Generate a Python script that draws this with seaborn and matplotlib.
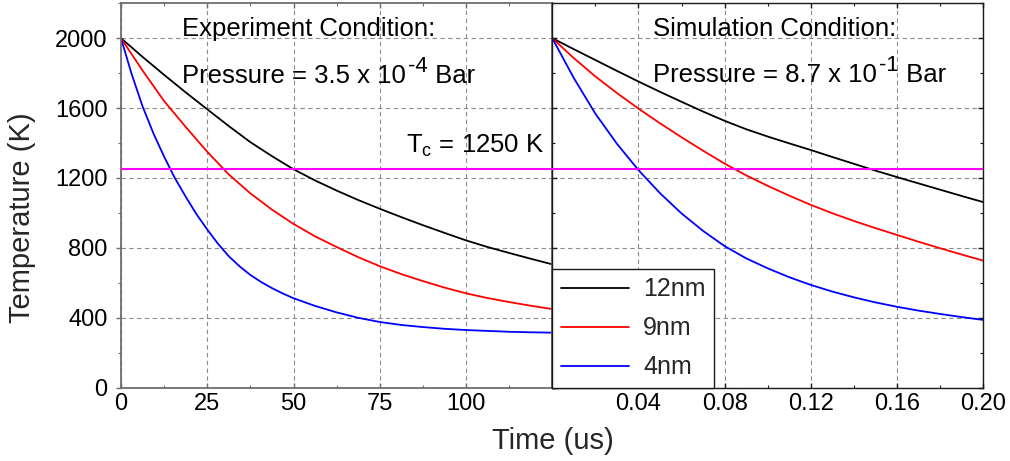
import matplotlib
matplotlib.use("Agg")
import matplotlib.pyplot as plt
import seaborn as sns
import pandas as pd
from matplotlib.ticker import FixedLocator, MultipleLocator, FormatStrFormatter
from matplotlib.lines import Line2D

# ---------------- data ----------------
sizes = ["12nm", "9nm", "4nm"]
colors = {"12nm": "#000000", "9nm": "#ff0000", "4nm": "#0000ff"}
Tc = 1250

# Experiment condition (time in us)
exp_t_12 = [0, 6.25, 12.5, 18.75, 25, 31.25, 37.5, 43.75, 50, 56.25, 62.5, 68.75, 75,
            81.25, 87.5, 93.75, 100, 106.25, 112.5, 118.75, 125]
exp_T_12 = [2000, 1893, 1790, 1690, 1593, 1497, 1405, 1325, 1250, 1186, 1128, 1074, 1024,
            976, 930, 886, 843, 805, 771, 738, 706]
exp_t_9 = [0, 6.25, 12.5, 18.75, 25, 31.25, 37.5, 43.75, 50, 56.25, 62.5, 68.75, 75,
           81.25, 87.5, 93.75, 100, 106.25, 112.5, 118.75, 125]
exp_T_9 = [2000, 1815, 1640, 1492, 1350, 1220, 1112, 1019, 937, 866, 805, 747, 695,
           650, 610, 573, 540, 513, 490, 469, 450]
exp_t_4 = [0, 3, 6.25, 9.4, 12.5, 15.6, 18.75, 21.9, 25, 28.1, 31.25, 34.4, 37.5, 40.6,
           43.75, 46.9, 50, 56.25, 62.5, 68.75, 75, 81.25, 87.5, 93.75, 100, 106.25,
           112.5, 118.75, 125]
exp_T_4 = [2000, 1800, 1610, 1455, 1322, 1200, 1093, 992, 905, 824, 752, 694, 645, 605,
           570, 539, 512, 468, 431, 400, 376, 359, 347, 337, 330, 325,
           320, 317, 315]

# Simulation condition (time in us)
sim_t = [0, 0.01, 0.02, 0.03, 0.04, 0.05, 0.06, 0.07, 0.08, 0.09, 0.10,
         0.11, 0.12, 0.13, 0.14, 0.15, 0.16, 0.17, 0.18, 0.19, 0.20]
sim_T_12 = [2000, 1937, 1875, 1813, 1752, 1693, 1636, 1580, 1527, 1479, 1437,
            1398, 1360, 1320, 1281, 1242, 1205, 1169, 1133, 1097, 1062]
sim_T_9 = [2000, 1886, 1781, 1686, 1597, 1513, 1433, 1356, 1282, 1215, 1155,
           1099, 1046, 998, 954, 913, 874, 835, 798, 762, 727]
sim_T_4 = [2000, 1772, 1568, 1396, 1245, 1113, 997, 897, 810, 740, 683,
           632, 588, 550, 517, 488, 463, 441, 422, 404, 388]

x_ticks_exp = [0, 25, 50, 75, 100]
x_ticks_sim = [0.04, 0.08, 0.12, 0.16, 0.20]
y_ticks = [0, 400, 800, 1200, 1600, 2000]


def long_df(pairs):
    frames = []
    for name, (t, T) in zip(sizes, pairs):
        frames.append(pd.DataFrame({"time": t, "temp": T, "size": name}))
    return pd.concat(frames, ignore_index=True)


df_exp = long_df([(exp_t_12, exp_T_12), (exp_t_9, exp_T_9), (exp_t_4, exp_T_4)])
df_sim = long_df([(sim_t, sim_T_12), (sim_t, sim_T_9), (sim_t, sim_T_4)])

# ---------------- style ----------------
sns.set_theme(style="white")
plt.rcParams["font.family"] = ["Liberation Sans", "DejaVu Sans"]
plt.rcParams["mathtext.fontset"] = "custom"
plt.rcParams["mathtext.rm"] = "Liberation Sans"
plt.rcParams["mathtext.it"] = "Liberation Sans:italic"
plt.rcParams["mathtext.default"] = "regular"

fig = plt.figure(figsize=(10.1, 4.61), dpi=100)
ax1 = fig.add_axes([0.1198, 0.159, 0.4270, 0.834])
ax2 = fig.add_axes([0.5468, 0.159, 0.4267, 0.834], sharey=ax1)

lw = 1.3
sns.lineplot(data=df_exp, x="time", y="temp", hue="size", hue_order=sizes,
             palette=colors, ax=ax1, legend=False, linewidth=lw, errorbar=None)
sns.lineplot(data=df_sim, x="time", y="temp", hue="size", hue_order=sizes,
             palette=colors, ax=ax2, legend=False, linewidth=lw, errorbar=None)

grid_kw = dict(color="#8c8c8c", linestyle=(0, (4, 3)), linewidth=0.8)
for ax in (ax1, ax2):
    ax.axhline(Tc, color="#ff00ff", linewidth=1.5, zorder=3)
    ax.grid(True, which="major", **grid_kw)
    ax.set_axisbelow(True)
    ax.set_xlabel("")
    ax.set_ylabel("")
    ax.set_facecolor("white")

ax1.set_xlim(0, 125)
ax1.set_ylim(0, 2200)
ax1.xaxis.set_major_locator(FixedLocator(x_ticks_exp))
ax1.xaxis.set_minor_locator(MultipleLocator(12.5))
ax1.yaxis.set_major_locator(FixedLocator(y_ticks))
ax1.yaxis.set_minor_locator(MultipleLocator(200))

ax2.set_xlim(0, 0.20)
ax2.xaxis.set_major_locator(FixedLocator(x_ticks_sim))
ax2.xaxis.set_major_formatter(FormatStrFormatter("%.2f"))
ax2.xaxis.set_minor_locator(MultipleLocator(0.02))

gray = "#6e6e6e"
dark = "#1a1a1a"
for sp in ax1.spines.values():
    sp.set_color(gray)
    sp.set_linewidth(1.3)
for sp in ax2.spines.values():
    sp.set_color(dark)
    sp.set_linewidth(1.0)

tick_fs = 17
ax1.tick_params(axis="x", which="both", direction="in", top=True, bottom=True,
                color=gray, labelsize=tick_fs, pad=4.0, labelcolor="black")
ax1.tick_params(axis="y", which="both", direction="out", left=True, right=True,
                color=gray, labelsize=tick_fs, pad=6.3, labelcolor="black")
ax1.tick_params(which="major", length=3.5, width=1)
ax1.tick_params(which="minor", length=2.2, width=0.8)

ax2.tick_params(axis="both", which="both", direction="in", top=True, bottom=True,
                left=True, right=True, color=dark, labelsize=tick_fs, pad=4.0,
                labelleft=False, labelcolor="black")
ax2.tick_params(which="major", length=3.5, width=1)
ax2.tick_params(which="minor", length=2.2, width=0.8)

# ---------------- annotations ----------------
ann_fs = 18.5
txt = dict(fontsize=ann_fs, va="baseline", color="black")


def text_with_power(ax, x, y, base, power, tail):
    """base text, a raised exponent, then the tail, all on one baseline."""
    t1 = ax.text(x, y, base, ha="left", **txt)
    t2 = ax.annotate(power, xy=(1, 0), xycoords=t1, xytext=(1.5, 7.4),
                     textcoords="offset points", fontsize=ann_fs * 0.86,
                     va="bottom", ha="left", color="black")
    ax.annotate(tail, xy=(1, 0), xycoords=t2, xytext=(0, -7.4),
                textcoords="offset points", fontsize=ann_fs,
                va="bottom", ha="left", color="black")


ax1.text(17.7, 2013, "Experiment Condition:", ha="left", **txt)
text_with_power(ax1, 17.7, 1746, "Pressure = 3.5 x 10", "-4", " Bar")
ax1.text(122.7, 1345, "T$_{c}$ = 1250 K", ha="right", **txt)
ax2.text(0.0468, 2013, "Simulation Condition:", ha="left", **txt)
text_with_power(ax2, 0.0468, 1752, "Pressure = 8.7 x 10", "-1", " Bar")

# ---------------- legend ----------------
handles = [Line2D([], [], color=colors[s], linewidth=lw) for s in sizes]
leg = ax2.legend(handles, sizes, loc="lower left", bbox_to_anchor=(0, 0),
                 borderaxespad=0, frameon=True, fancybox=False, framealpha=1,
                 edgecolor=dark, fontsize=18, handlelength=2.75,
                 handletextpad=0.55, borderpad=0.33, labelspacing=0.6)
leg.get_frame().set_linewidth(1.0)
leg.set_zorder(5)

fig.text(0.022, 0.528, "Temperature (K)", rotation=90, ha="center", va="center",
         fontsize=21)
fig.text(0.547, 1 - 449.3 / 461, "Time (us)", ha="center", va="baseline",
         fontsize=21)

fig.savefig("out.png", dpi=100, facecolor="white")
